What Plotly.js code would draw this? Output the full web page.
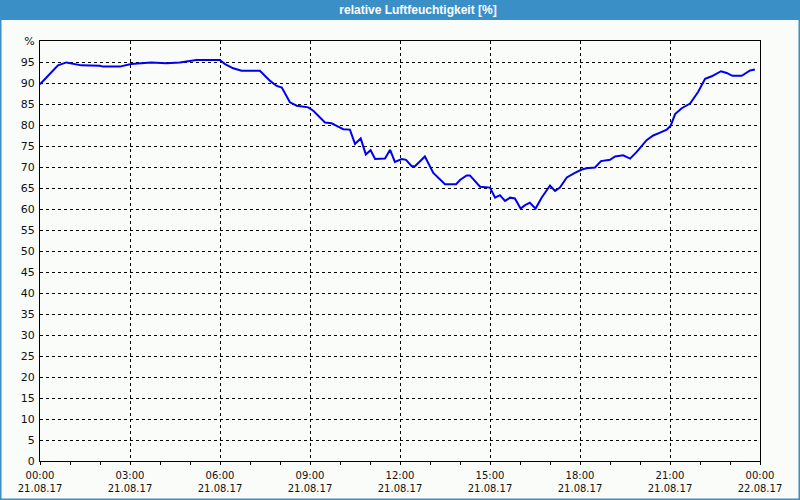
<!DOCTYPE html>
<html>
<head>
<meta charset="utf-8">
<script src="https://cdn.plot.ly/plotly-3.0.1.min.js"></script>
<style>
html,body{margin:0;padding:0;background:#FAFCFA;}
#chart{width:800px;height:500px;}
</style>
</head>
<body>
<div id="chart"></div>
<script>
// time of day in hours on 21.08.17
var hours = [0.0,0.38,0.6,0.88,1.04,1.38,1.99,2.1,2.66,3.04,3.71,4.21,4.66,5.21,5.99,6.17,6.44,6.72,7.33,7.67,7.89,8.06,8.33,8.56,8.94,9.11,9.5,9.72,9.89,10.11,10.33,10.5,10.69,10.86,11.02,11.17,11.5,11.67,11.83,12.06,12.2,12.39,12.5,12.83,13.11,13.5,13.87,14.0,14.22,14.33,14.67,15.0,15.17,15.33,15.5,15.67,15.83,16.02,16.17,16.33,16.52,16.72,17.0,17.17,17.33,17.56,17.83,18.06,18.22,18.5,18.7,19.0,19.17,19.44,19.67,19.89,20.22,20.44,20.67,20.89,21.02,21.17,21.39,21.67,21.94,22.17,22.39,22.7,22.89,23.08,23.39,23.67,23.83];
var humidity = [89.7,92.7,94.2,94.9,94.7,94.2,94.1,93.9,93.9,94.5,94.9,94.7,94.9,95.5,95.5,94.5,93.5,92.9,92.9,90.5,89.3,88.9,85.4,84.6,84.2,83.4,80.6,80.4,79.8,79.0,78.9,75.5,76.8,73.0,74.0,71.9,72.0,74.1,71.2,71.9,71.7,70.2,70.2,72.5,68.6,65.9,65.9,66.9,68.0,68.0,65.3,65.1,62.7,63.3,61.9,62.7,62.5,60.1,60.9,61.5,60.1,62.7,65.6,64.3,65.1,67.5,68.6,69.4,69.7,69.9,71.4,71.7,72.5,72.8,72.0,73.6,76.4,77.5,78.2,78.9,79.8,82.6,84.0,85.1,87.9,91.0,91.6,92.8,92.4,91.7,91.7,93.0,93.2];

var xTickHours = [0,3,6,9,12,15,18,21,24];
var xTickTimes = ['00:00','03:00','06:00','09:00','12:00','15:00','18:00','21:00','00:00'];
var xTickDates = ['21.08.17','21.08.17','21.08.17','21.08.17','21.08.17','21.08.17','21.08.17','21.08.17','22.08.17'];
var minorTickHours = [1,2,4,5,7,8,10,11,13,14,16,17,19,20,22,23];
var yTickVals = [0,5,10,15,20,25,30,35,40,45,50,55,60,65,70,75,80,85,90,95,100];
var yTickText = ['0','5','10','15','20','25','30','35','40','45','50','55','60','65','70','75','80','85','90','95','%'];

function pad(n){return (n<10?'0':'')+n;}
function toDate(h){
  var ms = Date.UTC(2017,7,21) + Math.round(h*3600000);
  var d = new Date(ms);
  return d.getUTCFullYear()+'-'+pad(d.getUTCMonth()+1)+'-'+pad(d.getUTCDate())+' '+pad(d.getUTCHours())+':'+pad(d.getUTCMinutes())+':'+pad(d.getUTCSeconds());
}

var x = hours.map(toDate);
var tickvals = xTickHours.map(toDate);
var ticktext = xTickTimes.map(function(t,i){return t+'<br>'+xTickDates[i];});

var W = 800, H = 500, L = 40, R = 40, T = 41, B = 39;
var pw = W - L - R, ph = H - T - B;
function fx(px){return (px - L)/pw;}
function fy(py){return (H - B - py)/ph;}

var bg = '#FAFCFA';
var blue = '#3B8FC7';
var tickFont = {family:'DejaVu Sans, Verdana, sans-serif', size:10, color:'#111'};

var trace = {
  x: x, y: humidity, type:'scatter', mode:'lines',
  line:{color:'#0000EE', width:2},
  hoverinfo:'skip'
};

var layout = {
  width: W, height: H,
  margin:{l:L, r:R, t:T, b:B, pad:0},
  paper_bgcolor: bg, plot_bgcolor: bg,
  showlegend:false,
  title:{
    text:'relative Luftfeuchtigkeit [%]',
    font:{family:'Liberation Sans, Arial, sans-serif', size:12, color:'#FFFFFF', weight:'bold'},
    x: 418/W, xanchor:'center', xref:'container',
    y: 1 - 10/H, yanchor:'middle', yref:'container'
  },
  xaxis:{
    type:'date',
    range:[toDate(0), toDate(24)],
    tickmode:'array', tickvals: tickvals, ticktext: ticktext,
    ticks:'outside', ticklen:3, tickcolor:'#000', tickwidth:1,
    minor:{tickmode:'array', tickvals: minorTickHours.map(toDate), ticks:'outside', ticklen:3, tickcolor:'#000', showgrid:false},
    showgrid:true, gridcolor:'#000', gridwidth:1, griddash:'3px,3px',
    showline:true, linecolor:'#000', linewidth:1, mirror:true,
    zeroline:false, tickfont: tickFont, ticklabelstandoff:2, fixedrange:true
  },
  yaxis:{
    range:[0,100],
    tickmode:'array', tickvals: yTickVals, ticktext: yTickText,
    ticks:'', showgrid:true, gridcolor:'#000', gridwidth:1, griddash:'3px,3px',
    showline:true, linecolor:'#000', linewidth:1, mirror:true,
    zeroline:false, tickfont:{family:'DejaVu Sans, Verdana, sans-serif', size:11, color:'#111'},
    ticklabelstandoff:2, fixedrange:true
  },
  shapes:[
    {type:'rect', xref:'paper', yref:'paper', layer:'below',
     x0: fx(0), x1: fx(W), y0: fy(0), y1: fy(20),
     fillcolor: blue, line:{width:0}},
    {type:'rect', xref:'paper', yref:'paper', layer:'below',
     x0: fx(0), x1: fx(W), y0: fy(0), y1: fy(H),
     fillcolor:'rgba(0,0,0,0)', line:{color: blue, width:3}}
  ]
};

Plotly.newPlot('chart', [trace], layout, {displayModeBar:false, staticPlot:true});
</script>
</body>
</html>
